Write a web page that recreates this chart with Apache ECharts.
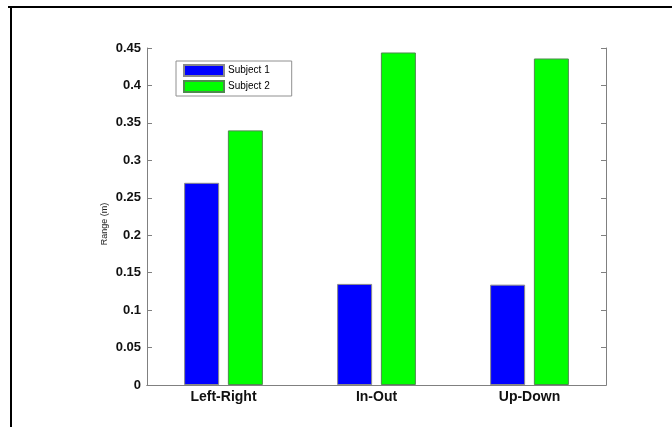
<!DOCTYPE html>
<html>
<head>
<meta charset="utf-8">
<script src="https://cdn.jsdelivr.net/npm/echarts@6/dist/echarts.min.js"></script>
<style>html,body{margin:0;padding:0;background:#fff;}#c{width:672px;height:427px;}</style>
</head>
<body>
<div id="c"></div>
<script>
var categories = ['Left-Right', 'In-Out', 'Up-Down'];
var subject1 = [0.270, 0.135, 0.134];
var subject2 = [0.340, 0.444, 0.436];
var seriesNames = ['Subject 1', 'Subject 2'];
var yMin = 0, yMax = 0.45, yStep = 0.05;

var chart = echarts.init(document.getElementById('c'), null, {renderer: 'canvas'});
var axisGray = '#808080';
chart.setOption({
  animation: false,
  backgroundColor: '#fff',
  grid: {left: 147, top: 48, width: 459, height: 337, containLabel: false},
  legend: {
    orient: 'vertical', left: 176, top: 61,
    padding: [3, 22, 3, 7], itemGap: 3, itemWidth: 40, itemHeight: 11,
    backgroundColor: '#fff', borderColor: '#909090', borderWidth: 1, borderRadius: 0,
    icon: 'rect',
    textStyle: {fontFamily: 'Liberation Sans, Arial', fontSize: 10, lineHeight: 11, color: '#000', padding: [0, 0, 0, -1]},
    data: seriesNames
  },
  xAxis: [{
    type: 'category', data: categories, position: 'bottom',
    axisLine: {lineStyle: {color: axisGray, width: 1}},
    axisTick: {inside: true, length: 4, alignWithLabel: true, lineStyle: {color: axisGray}},
    axisLabel: {fontFamily: 'Liberation Sans, Arial', fontWeight: 'bold', fontSize: 14, color: '#111', margin: 5}
  }, {
    type: 'category', data: categories, position: 'top',
    axisLine: {lineStyle: {color: axisGray, width: 1}},
    axisTick: {inside: true, length: 4, alignWithLabel: true, lineStyle: {color: axisGray}},
    axisLabel: {show: false}
  }],
  yAxis: [{
    type: 'value', min: yMin, max: yMax, interval: yStep, position: 'left',
    splitLine: {show: false},
    axisLine: {show: true, lineStyle: {color: axisGray, width: 1}},
    axisTick: {show: true, inside: true, length: 5, lineStyle: {color: axisGray}},
    axisLabel: {fontFamily: 'Liberation Sans, Arial', fontWeight: 'bold', fontSize: 13, color: '#111', margin: 6}
  }, {
    type: 'value', min: yMin, max: yMax, interval: yStep, position: 'right',
    splitLine: {show: false},
    axisLine: {show: true, lineStyle: {color: axisGray, width: 1}},
    axisTick: {show: true, inside: true, length: 5, lineStyle: {color: axisGray}},
    axisLabel: {show: false}
  }],
  series: [{
    name: seriesNames[0], type: 'bar', data: subject1, barWidth: 35, barGap: '25%',
    itemStyle: {color: '#0000ff', borderColor: '#8a8a8a', borderWidth: 1}
  }, {
    name: seriesNames[1], type: 'bar', data: subject2, barWidth: 35, barGap: '25%',
    itemStyle: {color: '#00ff00', borderColor: '#4e8a4e', borderWidth: 1}
  }],
  graphic: [
    {type: 'line', shape: {x1: 8, y1: 7, x2: 672, y2: 7}, style: {stroke: '#000', lineWidth: 2}},
    {type: 'line', shape: {x1: 11, y1: 7, x2: 11, y2: 427}, style: {stroke: '#000', lineWidth: 2}},
    {type: 'text', x: 105, y: 224, rotation: Math.PI / 2,
     style: {text: 'Range (m)', fontFamily: 'Liberation Sans, Arial', fontSize: 9, fill: '#222', align: 'center', verticalAlign: 'middle'}}
  ]
});
</script>
</body>
</html>
